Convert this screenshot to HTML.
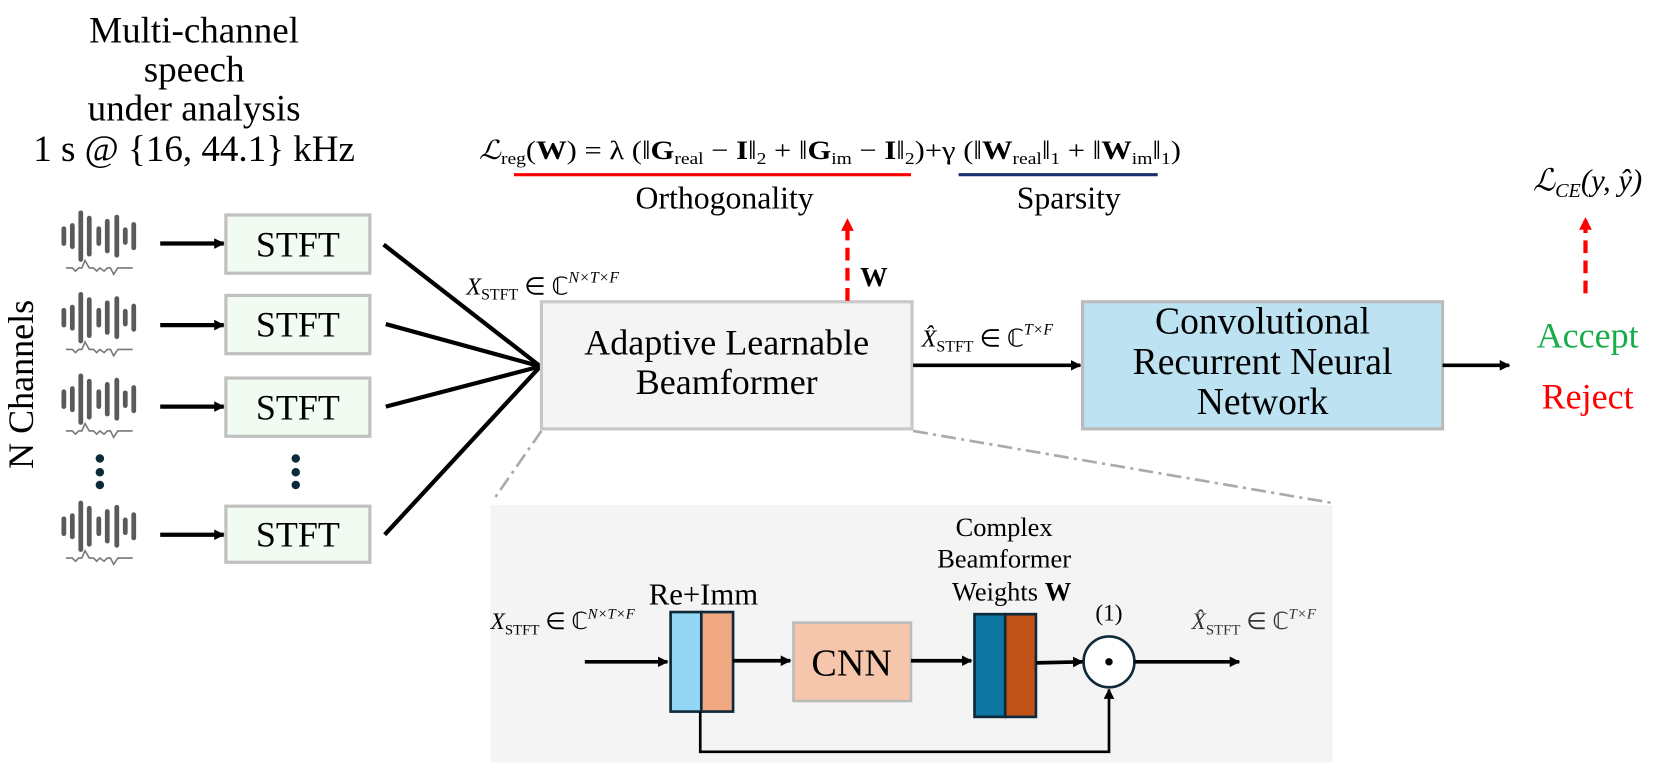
<!DOCTYPE html>
<html><head><meta charset="utf-8"><style>
body{margin:0;background:#fff}
svg text{font-family:"Liberation Serif",serif}
</style></head><body>
<svg width="1661" height="773" viewBox="0 0 1568 730" xmlns="http://www.w3.org/2000/svg">
<defs>
<marker id="ah" markerWidth="10" markerHeight="10" refX="9" refY="5" orient="auto" markerUnits="userSpaceOnUse"><path d="M0,0 L10,5 L0,10 z" fill="#000"/></marker>
<marker id="ahr" markerWidth="12" markerHeight="12" refX="10" refY="6" orient="auto" markerUnits="userSpaceOnUse"><path d="M0,0 L12,6 L0,12 z" fill="#f00"/></marker>
<g id="wave">
<g stroke="#5a5a5a" stroke-width="4.5" stroke-linecap="round">
<line x1="0" y1="-7" x2="0" y2="7"/><line x1="8" y1="-10" x2="8" y2="10"/><line x1="16" y1="-22" x2="16" y2="22"/><line x1="24" y1="-17" x2="24" y2="17"/><line x1="33" y1="-7" x2="33" y2="7"/><line x1="41" y1="-14" x2="41" y2="14"/><line x1="50" y1="-18" x2="50" y2="18"/><line x1="58" y1="-6" x2="58" y2="6"/><line x1="66" y1="-11" x2="66" y2="11"/>
</g>
<path d="M2,30 l6,0 3,3 3,-3 3,0 3,-7 4,7 4,0 3,3 3,-3 4,3 3,-3 3,0 3,6 4,-6 14,0" fill="none" stroke="#777" stroke-width="1.5"/>
</g>
</defs>

<g font-size="35" text-anchor="middle">
<text x="183" y="40">Multi-channel</text>
<text x="183" y="77">speech</text>
<text x="183" y="114">under analysis</text>
<text x="183" y="152">1 s @ {16, 44.1} kHz</text>
</g>
<text transform="translate(31,363) rotate(-90)" font-size="34" text-anchor="middle">N Channels</text>

<use href="#wave" x="60" y="223"/>
<use href="#wave" x="60" y="300"/>
<use href="#wave" x="60" y="377"/>
<use href="#wave" x="60" y="497"/>

<g stroke="#000" stroke-width="4">
<line x1="151" y1="230" x2="211" y2="230" marker-end="url(#ah)"/>
<line x1="151" y1="307" x2="211" y2="307" marker-end="url(#ah)"/>
<line x1="151" y1="384" x2="211" y2="384" marker-end="url(#ah)"/>
<line x1="151" y1="505" x2="211" y2="505" marker-end="url(#ah)"/>
</g>
<g fill="#0d2a3a"><circle cx="94" cy="433" r="4"/><circle cx="94" cy="446" r="4"/><circle cx="94" cy="458" r="4"/>
<circle cx="279" cy="433" r="4"/><circle cx="279" cy="446" r="4"/><circle cx="279" cy="458" r="4"/></g>

<g fill="#f2fbf2" stroke="#c0c0c0" stroke-width="3">
<rect x="213" y="203" width="136" height="55"/><rect x="213" y="279" width="136" height="55"/><rect x="213" y="357" width="136" height="55"/><rect x="213" y="478" width="136" height="53"/>
</g>
<g font-size="34" text-anchor="middle">
<text x="281" y="242">STFT</text><text x="281" y="318">STFT</text><text x="281" y="396">STFT</text><text x="281" y="516">STFT</text>
</g>

<g stroke="#000" stroke-width="4">
<line x1="362" y1="231" x2="510" y2="346"/><line x1="364" y1="306" x2="510" y2="346"/><line x1="364" y1="384" x2="510" y2="346"/><line x1="363" y1="505" x2="510" y2="346"/>
</g>
<text x="440" y="278" font-size="23" font-style="italic">X<tspan font-size="15" font-style="normal" dy="5">STFT</tspan><tspan dy="-5" font-style="normal"> ∈ ℂ</tspan><tspan font-size="15" dy="-11">N×T×F</tspan></text>

<rect x="511" y="285" width="350" height="120" fill="#f4f4f4" stroke="#c8c8c8" stroke-width="3"/>
<text x="686" y="335" font-size="34" text-anchor="middle">Adaptive Learnable</text>
<text x="686" y="372" font-size="34" text-anchor="middle">Beamformer</text>

<line x1="800" y1="284" x2="800" y2="208" stroke="#f00" stroke-width="4" stroke-dasharray="12,7" marker-end="url(#ahr)"/>
<text x="812" y="270" font-size="26" font-weight="bold">W</text>

<text x="452" y="150" font-size="25" textLength="663" lengthAdjust="spacingAndGlyphs"><tspan font-style="italic">ℒ</tspan><tspan font-size="16" dy="5">reg</tspan><tspan dy="-5">(<tspan font-weight="bold">W</tspan>) = λ (‖<tspan font-weight="bold">G</tspan></tspan><tspan font-size="16" dy="5">real</tspan><tspan dy="-5"> − <tspan font-weight="bold">I</tspan>‖</tspan><tspan font-size="16" dy="5">2</tspan><tspan dy="-5"> + ‖<tspan font-weight="bold">G</tspan></tspan><tspan font-size="16" dy="5">im</tspan><tspan dy="-5"> − <tspan font-weight="bold">I</tspan>‖</tspan><tspan font-size="16" dy="5">2</tspan><tspan dy="-5">)+γ (‖<tspan font-weight="bold">W</tspan></tspan><tspan font-size="16" dy="5">real</tspan><tspan dy="-5">‖</tspan><tspan font-size="16" dy="5">1</tspan><tspan dy="-5"> + ‖<tspan font-weight="bold">W</tspan></tspan><tspan font-size="16" dy="5">im</tspan><tspan dy="-5">‖</tspan><tspan font-size="16" dy="5">1</tspan><tspan dy="-5">)</tspan></text>
<line x1="485" y1="165" x2="860" y2="165" stroke="#f00" stroke-width="3"/>
<line x1="905" y1="165" x2="1093" y2="165" stroke="#1a2e6e" stroke-width="3"/>
<text x="684" y="197" font-size="30" text-anchor="middle">Orthogonality</text>
<text x="1009" y="197" font-size="30" text-anchor="middle">Sparsity</text>

<line x1="862" y1="345" x2="1020" y2="345" stroke="#000" stroke-width="3.5" marker-end="url(#ah)"/>
<text x="870" y="327" font-size="23" font-style="italic">X̂<tspan font-size="15" font-style="normal" dy="5">STFT</tspan><tspan dy="-5" font-style="normal"> ∈ ℂ</tspan><tspan font-size="15" dy="-11">T×F</tspan></text>

<rect x="1022" y="285" width="340" height="120" fill="#bde3f3" stroke="#bbb" stroke-width="3"/>
<g font-size="35.5" text-anchor="middle"><text x="1192" y="315">Convolutional</text><text x="1192" y="353">Recurrent Neural</text><text x="1192" y="391">Network</text></g>
<line x1="1362" y1="345" x2="1425" y2="345" stroke="#000" stroke-width="3.5" marker-end="url(#ah)"/>
<text x="1499" y="328" font-size="34" fill="#1aab4a" text-anchor="middle">Accept</text>
<text x="1499" y="386" font-size="34" fill="#f00" text-anchor="middle">Reject</text>
<line x1="1497" y1="277" x2="1497" y2="207" stroke="#f00" stroke-width="4" stroke-dasharray="12,7" marker-end="url(#ahr)"/>
<text x="1499" y="180" font-size="29" text-anchor="middle"><tspan font-style="italic">ℒ</tspan><tspan font-size="19" font-style="italic" dy="6">CE</tspan><tspan dy="-6" font-style="italic">(y, ŷ)</tspan></text>

<g stroke="#aaa" stroke-width="2.5" stroke-dasharray="14,5,3,5">
<line x1="511" y1="407" x2="465" y2="473"/><line x1="862" y1="407" x2="1258" y2="475"/>
</g>
<rect x="463" y="477" width="795" height="243" fill="#f4f4f4"/>

<text x="463" y="594" font-size="22" font-style="italic">X<tspan font-size="14" font-style="normal" dy="5">STFT</tspan><tspan dy="-5" font-style="normal"> ∈ ℂ</tspan><tspan font-size="14" dy="-10">N×T×F</tspan></text>
<line x1="552" y1="625" x2="630" y2="625" stroke="#000" stroke-width="3.5" marker-end="url(#ah)"/>
<text x="664" y="571" font-size="29" text-anchor="middle">Re+Imm</text>
<rect x="633" y="578" width="29" height="94" fill="#93d7f4" stroke="#0e2a3a" stroke-width="2.5"/>
<rect x="662" y="578" width="30" height="94" fill="#f0a982" stroke="#0e2a3a" stroke-width="2.5"/>
<line x1="692" y1="624" x2="746" y2="624" stroke="#000" stroke-width="3.5" marker-end="url(#ah)"/>
<rect x="749" y="588" width="111" height="74" fill="#f5c6ab" stroke="#bbb" stroke-width="2.5"/>
<text x="804" y="638" font-size="36" text-anchor="middle">CNN</text>
<line x1="860" y1="624" x2="917" y2="624" stroke="#000" stroke-width="3.5" marker-end="url(#ah)"/>
<g font-size="25" text-anchor="middle"><text x="948" y="506">Complex</text><text x="948" y="536">Beamformer</text><text x="955" y="567">Weights <tspan font-weight="bold">W</tspan></text></g>
<rect x="920" y="580" width="29" height="97" fill="#0e76a0" stroke="#0e2a3a" stroke-width="2.5"/>
<rect x="949" y="580" width="29" height="97" fill="#c0521a" stroke="#0e2a3a" stroke-width="2.5"/>
<line x1="978" y1="626" x2="1022" y2="625" stroke="#000" stroke-width="3.5" marker-end="url(#ah)"/>
<circle cx="1047" cy="625" r="24" fill="#fff" stroke="#0e2a3a" stroke-width="2.5"/>
<circle cx="1047" cy="625" r="3.5" fill="#000"/>
<text x="1047" y="586" font-size="22" text-anchor="middle">(1)</text>
<line x1="1071" y1="625" x2="1170" y2="625" stroke="#000" stroke-width="3.5" marker-end="url(#ah)"/>
<text x="1125" y="594" font-size="22" font-style="italic" fill="#333">X̂<tspan font-size="14" font-style="normal" dy="5">STFT</tspan><tspan dy="-5" font-style="normal"> ∈ ℂ</tspan><tspan font-size="14" dy="-10">T×F</tspan></text>
<polyline points="661,672 661,710 1047,710 1047,651" fill="none" stroke="#000" stroke-width="2.5" marker-end="url(#ah)"/>
</svg>
</body></html>
